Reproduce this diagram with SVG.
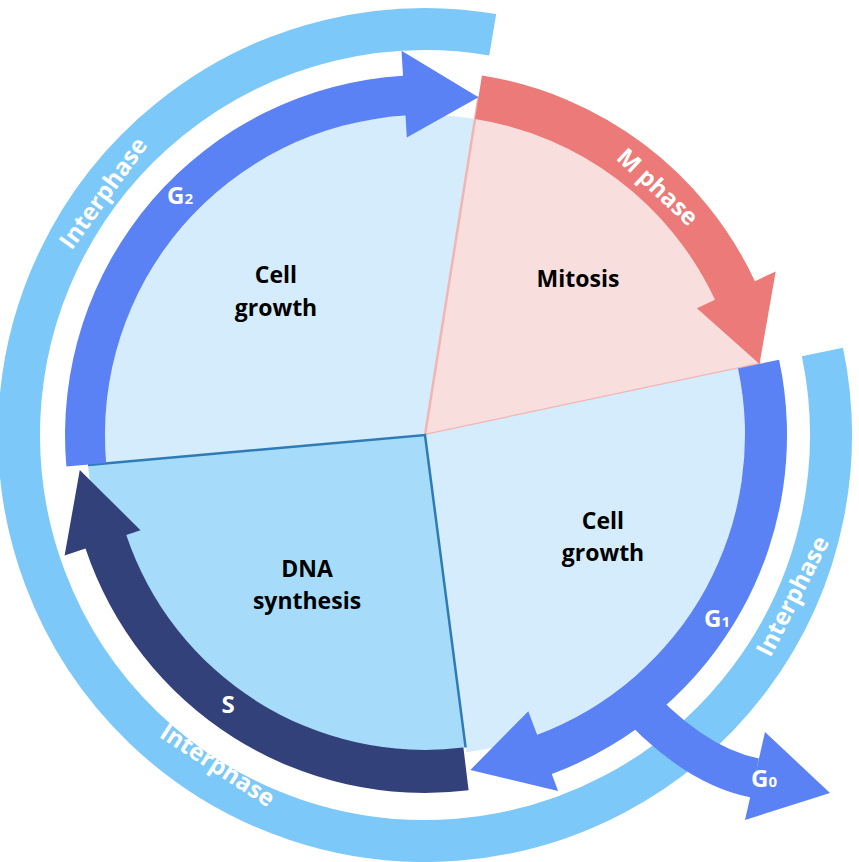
<svg xmlns="http://www.w3.org/2000/svg" width="859" height="862" viewBox="0 0 859 862">
<style>
.lbl{font-family:"Open Sans","Noto Sans","Liberation Sans",sans-serif;font-weight:bold;font-size:23px;fill:#000;text-anchor:middle}
.wt{font-family:"Open Sans","Noto Sans","Liberation Sans",sans-serif;font-weight:bold;font-size:24px;fill:#fff;text-anchor:middle}
.blue{fill:#5b82f5}
</style>
<rect width="859" height="862" fill="#fff"/>
<g id="interphase-band">
<path d="M492.7,34.7 A406,406 0 1 0 822.4,352.0" fill="none" stroke="#7cc8f8" stroke-width="42"/>
</g>
<g id="g2-sector">
<path d="M425,435 L106.2,462.9 A320,320 0 0 1 475.1,118.9 Z" fill="#d4ecfb"/>
<text class="lbl" x="276" y="283">Cell</text><text class="lbl" x="276" y="316">growth</text>
</g>
<g id="mitosis-sector">
<path d="M425,435 L478.5,97.2 A342,342 0 0 1 759.5,363.9 Z" fill="#f8dedd" stroke="#f3b5b3" stroke-width="2.5"/>
<text class="lbl" x="578" y="287">Mitosis</text>
</g>
<g id="g1-sector">
<path d="M425,435 L738.0,368.5 A320,320 0 0 1 466.2,752.3 Z" fill="#d4ecfb"/>
<text class="lbl" x="603" y="529">Cell</text><text class="lbl" x="603" y="561">growth</text>
</g>
<g id="s-sector">
<path d="M425,435 L465.6,747.4 A315,315 0 0 1 88,465 Z" fill="#a6dcfa"/>
<path d="M465.6,747.4 L425,435 L88,465" fill="none" stroke="#2e7bb5" stroke-width="2.5"/>
<text class="lbl" x="307" y="577">DNA</text><text class="lbl" x="307" y="609">synthesis</text>
</g>
<g id="connectors">
<path id="g2-arrow" class="blue" d="M66.4,466.4 A360,360 0 0 1 403.0,75.7 L401.5,50.7 L478.5,97.2 L406.8,137.6 L405.5,115.6 A320,320 0 0 0 106.2,462.9 Z"/>
<path id="m-arrow" fill="#ec7a78" d="M481.9,75.5 A364,364 0 0 1 754.9,281.2 L775.7,271.4 L759.5,363.9 L696.9,308.2 L715.0,299.8 A320,320 0 0 0 475.1,118.9 Z"/>
<path id="g0-arrow" d="M625,690 Q690,765 755,778" fill="none" stroke="#5b82f5" stroke-width="40"/>
<polygon class="blue" points="765,732 830,793 745,820"/>
<path id="g1-arrow" class="blue" d="M779.1,359.7 A362,362 0 0 1 551.8,774.1 L558.1,791.0 L470.3,770.0 L528.3,711.3 L537.1,734.7 A320,320 0 0 0 738.0,368.5 Z"/>
<path id="s-arrow" fill="#324179" d="M468.6,790.3 A358,358 0 0 1 85.5,548.6 L64.6,555.6 L79.8,470.1 L140.5,530.2 L126.3,535.0 A315,315 0 0 0 463.4,747.6 Z"/>
</g>
<g id="labels">
<text class="wt" transform="translate(110,198) rotate(-54)">Interphase</text>
<text class="wt" transform="translate(213,772) rotate(33)">Interphase</text>
<text class="wt" transform="translate(800,600) rotate(-63)">Interphase</text>
<text class="wt" transform="translate(652,193) rotate(43)">M phase</text>
<text class="wt" x="180" y="204" font-size="22">G<tspan font-size="15">2</tspan></text>
<text class="wt" x="717" y="627" font-size="22">G<tspan font-size="15">1</tspan></text>
<text class="wt" x="764" y="787" font-size="22">G<tspan font-size="15">0</tspan></text>
<text class="wt" x="228" y="713" font-size="22">S</text>
</g>
</svg>
